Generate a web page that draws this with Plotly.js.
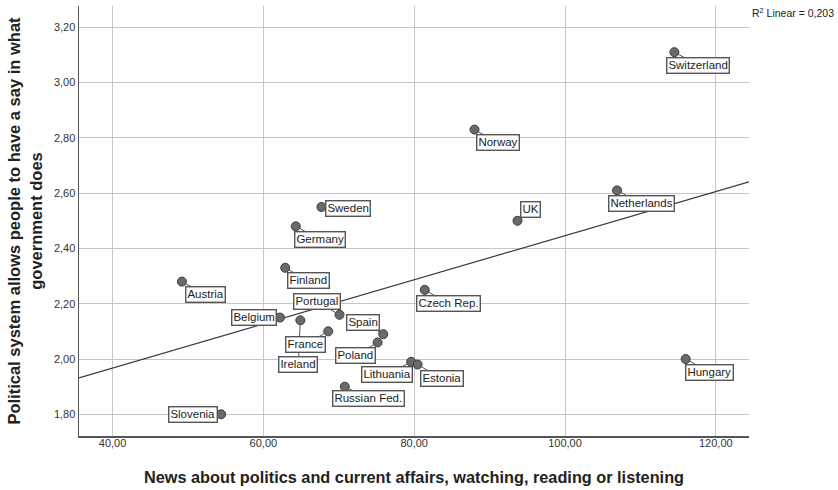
<!DOCTYPE html>
<html>
<head>
<meta charset="utf-8">
<script src="https://cdn.plot.ly/plotly-3.0.1.min.js"></script>
<style>html,body{margin:0;padding:0;background:#fff;}#chart{width:838px;height:490px;}</style>
</head>
<body>
<div id="chart"></div>
<script>
// Data
const countries = ["Switzerland","Norway","UK","Netherlands","Sweden","Germany","Finland","Austria","Belgium","Ireland","Portugal","France","Spain","Poland","Lithuania","Estonia","Russian Fed.","Slovenia","Czech Rep.","Hungary"];
const newsValues = [114.5, 88.0, 93.7, 106.9, 67.7, 64.3, 62.9, 49.2, 62.2, 64.9, 70.1, 68.6, 75.9, 75.15, 79.6, 80.45, 70.8, 54.4, 81.4, 116.0];
const sayValues = [3.11, 2.83, 2.50, 2.61, 2.55, 2.48, 2.33, 2.28, 2.15, 2.14, 2.16, 2.10, 2.09, 2.06, 1.99, 1.98, 1.90, 1.80, 2.25, 2.00];
const xTicks = [40, 60, 80, 100, 120];
const yTicks = [1.8, 2.0, 2.2, 2.4, 2.6, 2.8, 3.0, 3.2];
const r2Text = "R<sup>2</sup> Linear = 0,203";

// label offsets (pixels) relative to each point
const labelOffsets = {
  "Switzerland":[24,13], "Norway":[23,13], "UK":[13,-11], "Netherlands":[24,13],
  "Sweden":[27,2], "Germany":[24,13], "Finland":[23,13], "Austria":[24,13],
  "Belgium":[-26,0], "Ireland":[-2,44], "Portugal":[-23,-13], "France":[-23,13],
  "Spain":[-20,-12], "Poland":[-22,13], "Lithuania":[-24,13], "Estonia":[24,14],
  "Russian Fed.":[24,12], "Slovenia":[-28,0], "Czech Rep.":[24,14], "Hungary":[24,13]
};

const xRange = [35.55, 124.4];
const yRange = [1.7215, 3.277];

// OLS fit
const n = newsValues.length;
const mx = newsValues.reduce((a,b)=>a+b,0)/n;
const my = sayValues.reduce((a,b)=>a+b,0)/n;
let sxy = 0, sxx = 0;
for (let i=0;i<n;i++){ sxy += (newsValues[i]-mx)*(sayValues[i]-my); sxx += (newsValues[i]-mx)**2; }
const slope = sxy/sxx, intercept = my - slope*mx;

const font = "Liberation Sans, Arial, sans-serif";

const traces = [
  {
    x: xRange, y: xRange.map(v=>intercept+slope*v),
    mode: "lines", type: "scatter",
    line: {color: "#3a3a3a", width: 1.2},
    hoverinfo: "skip", showlegend: false
  },
  {
    x: newsValues, y: sayValues, text: countries,
    mode: "markers", type: "scatter",
    marker: {size: 9, color: "#6a6a6a", line: {color: "#3c3c3c", width: 1}},
    hoverinfo: "text", showlegend: false
  }
];

const annotations = countries.map((c,i)=>({
  x: newsValues[i], y: sayValues[i], xref: "x", yref: "y",
  text: c, showarrow: true, arrowhead: 0, arrowwidth: 1, arrowcolor: "#555",
  ax: labelOffsets[c][0], ay: labelOffsets[c][1], standoff: 3,
  bgcolor: "#ffffff", bordercolor: "#555555", borderwidth: 1.4, borderpad: 1,
  font: {family: font, size: 11.5, color: "#222"}
}));
annotations.push({
  xref: "paper", yref: "paper", x: 1.002, y: 0.984, xanchor: "left", yanchor: "middle",
  text: r2Text, showarrow: false, font: {family: font, size: 10.5, color: "#222"}
});

const layout = {
  width: 838, height: 490,
  margin: {l: 79, r: 89, t: 6, b: 54},
  paper_bgcolor: "#fff", plot_bgcolor: "#fff",
  separators: ",.",
  font: {family: font, color: "#333"},
  xaxis: {
    range: xRange, tickvals: xTicks, tickformat: ".2f",
    showgrid: true, gridcolor: "#c6c6c6", gridwidth: 1,
    zeroline: false, showline: true, linecolor: "#555", linewidth: 1.5,
    ticks: "", ticklabelstandoff: -4, tickfont: {size: 11, color: "#333"},
    title: {text: "News about politics and current affairs, watching, reading or listening",
            font: {size: 16.3, color: "#222", family: font, weight: "bold"}, standoff: 24}
  },
  yaxis: {
    range: yRange, tickvals: yTicks, tickformat: ".2f",
    showgrid: true, gridcolor: "#c6c6c6", gridwidth: 1,
    zeroline: false, showline: true, linecolor: "#555", linewidth: 1.5,
    ticks: "", tickfont: {size: 11, color: "#333"},
    title: {text: "Political system allows people to have a say in what<br>government does",
            font: {size: 16.5, color: "#222", family: font, weight: "bold"}, standoff: 7}
  },
  annotations: annotations
};

Plotly.newPlot("chart", traces, layout, {displayModeBar: false, staticPlot: true});
</script>
</body>
</html>
